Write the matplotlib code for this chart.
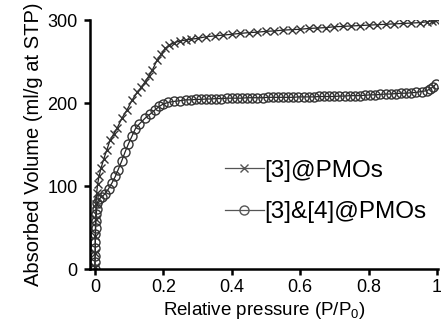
import matplotlib
matplotlib.use("Agg")
import matplotlib.pyplot as plt

plt.rcParams["font.family"] = ["Liberation Sans", "DejaVu Sans"]
plt.rcParams["mathtext.fontset"] = "custom"
plt.rcParams["mathtext.rm"] = "Liberation Sans"

# [3]@PMOs isotherm (x markers)
P_PMO3 = [0.0, 0.0005, 0.001, 0.002, 0.003, 0.005, 0.008, 0.012, 0.018, 0.026,
          0.035, 0.044, 0.055, 0.065, 0.079, 0.094, 0.109, 0.124, 0.136, 0.147,
          0.158, 0.168, 0.182, 0.194, 0.206, 0.218, 0.232, 0.25, 0.265, 0.28,
          0.3, 0.325, 0.35, 0.375, 0.4, 0.425, 0.45, 0.475, 0.5, 0.525,
          0.55, 0.575, 0.6, 0.625, 0.65, 0.675, 0.7, 0.725, 0.75, 0.775,
          0.8, 0.825, 0.85, 0.875, 0.9, 0.925, 0.95, 0.97, 0.985, 0.995, 1.0]
V_PMO3 = [3, 20, 40, 60, 78, 92, 103, 112, 122, 133,
          144, 155, 163, 170, 182, 192, 204, 213, 219, 226,
          233, 240, 252, 259, 266, 270, 273, 275, 276, 277,
          278, 280, 281, 282, 283, 284, 285, 285.5, 286.5, 287,
          288, 288.5, 289, 290, 290.5, 291, 292, 292.5, 293, 293.5,
          294, 294.5, 295, 295.5, 296, 296.5, 297, 298, 299, 300, 301]

# [3]&[4]@PMOs isotherm (o markers)
P_PMO34 = [0.0, 0.0, 0.0005, 0.001, 0.001, 0.0015, 0.002, 0.003, 0.004, 0.005,
           0.007, 0.011, 0.02, 0.03, 0.04, 0.05, 0.06, 0.068, 0.078, 0.088,
           0.098, 0.108, 0.118, 0.13, 0.147, 0.162, 0.176, 0.188, 0.2, 0.215,
           0.23, 0.25, 0.265, 0.28, 0.295, 0.31, 0.325, 0.34, 0.355, 0.37,
           0.385, 0.4, 0.415, 0.43, 0.445, 0.46, 0.475, 0.49, 0.505, 0.52,
           0.535, 0.55, 0.565, 0.58, 0.595, 0.61, 0.625, 0.64, 0.655, 0.67,
           0.685, 0.7, 0.715, 0.73, 0.745, 0.76, 0.775, 0.79, 0.805, 0.82,
           0.835, 0.85, 0.865, 0.88, 0.895, 0.91, 0.925, 0.94, 0.955, 0.97,
           0.98, 0.99, 0.997]
V_PMO34 = [0, 8, 16, 25, 33, 42, 50, 58, 66, 73,
           80, 84, 87, 91, 97, 104, 112, 120, 130, 141,
           151, 160, 169, 175, 182, 187, 192, 196, 199, 201,
           202, 203, 204, 204, 204.5, 204.5, 205, 205, 205.5, 205.5,
           206, 206, 206, 206, 206.5, 206.5, 206.5, 206.5, 207, 207,
           207, 207, 207, 207, 207.5, 207.5, 207.5, 207.5, 208, 208,
           208, 208, 208.5, 208.5, 209, 209, 209, 209.5, 210, 210,
           210.5, 211, 211, 211.5, 212, 212, 212.5, 213, 214, 215,
           217, 220, 223]

X_TICKS = [0, 0.2, 0.4, 0.6, 0.8, 1]
X_TICK_LABELS = ["0", "0.2", "0.4", "0.6", "0.8", "1"]
Y_TICKS = [0, 100, 200, 300]

fig = plt.figure(figsize=(4.41, 3.25), dpi=100)
ax = fig.add_axes([0.204, 0.172, 0.789, 0.766])

ax.plot(P_PMO3, V_PMO3, color="#222222", lw=0.9, marker="x", ms=6,
        mew=1.0, mec="#333333", label="[3]@PMOs")
ax.plot(P_PMO34, V_PMO34, color="#222222", lw=0.9, marker="o", ms=6.5,
        mew=1.0, mfc="none", mec="#333333", label="[3]&[4]@PMOs")

ax.set_xlim(-0.0146, 1.003)
ax.set_ylim(0, 300)
ax.set_xticks(X_TICKS)
ax.set_xticklabels(X_TICK_LABELS)
ax.set_yticks(Y_TICKS)

for side in ["top", "right"]:
    ax.spines[side].set_visible(False)
for side in ["left", "bottom"]:
    ax.spines[side].set_linewidth(1.8)
ax.tick_params(direction="out", length=4, width=1.8, labelsize=13)
ax.tick_params(axis="y", pad=5)
ax.tick_params(axis="x", pad=3)

ax.set_xlabel("Relative pressure (P/P$\\mathregular{_0}$)", fontsize=13.5, labelpad=3)
ax.set_ylabel("Absorbed Volume (ml/g at STP)", fontsize=14.5, labelpad=3)

leg = ax.legend(loc="upper left", bbox_to_anchor=(0.388, 0.44), frameon=False,
                fontsize=17.5, handlelength=1.6, handletextpad=0.0,
                labelspacing=0.8, borderpad=0, borderaxespad=0, markerscale=1.0)
for h in leg.legend_handles:
    h.set_color("#555555")
    h.set_markeredgecolor("#555555")

fig.savefig("out.png", dpi=100)
